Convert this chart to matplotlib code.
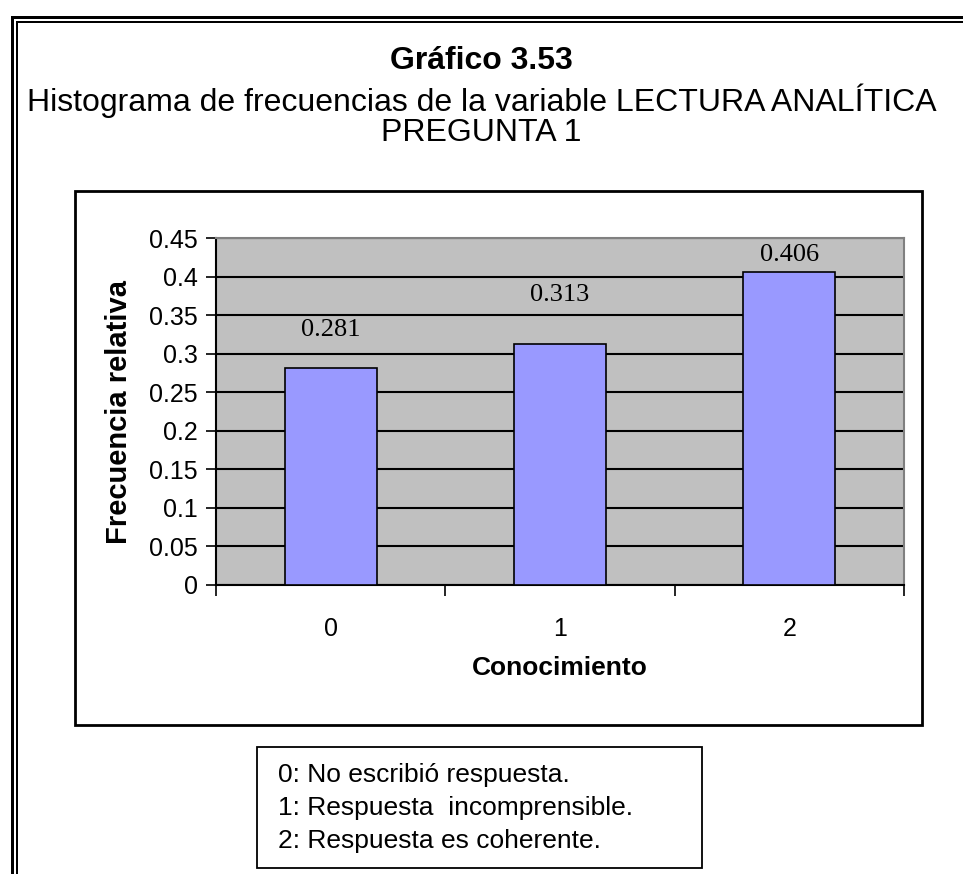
import matplotlib
matplotlib.use("Agg")
import matplotlib.pyplot as plt
from matplotlib.patches import Rectangle
from matplotlib.lines import Line2D
import numpy as np

categories = ["0", "1", "2"]
values = [0.281, 0.313, 0.406]
value_labels = ["0.281", "0.313", "0.406"]
yticks = [0, 0.05, 0.1, 0.15, 0.2, 0.25, 0.3, 0.35, 0.4, 0.45]
ytick_labels = ["0", "0.05", "0.1", "0.15", "0.2", "0.25", "0.3", "0.35", "0.4", "0.45"]
legend_lines = ["0: No escribió respuesta.",
                "1: Respuesta  incomprensible.",
                "2: Respuesta es coherente."]
title = "Gráfico 3.53"
subtitle = "Histograma de frecuencias de la variable LECTURA ANALÍTICA\nPREGUNTA 1"
xlabel = "Conocimiento"
ylabel = "Frecuencia relativa"
label_offsets = [0.05, 0.063, 0.022]

W, H = 963, 874
fig = plt.figure(figsize=(W / 100, H / 100), dpi=100)
sans = ["Liberation Sans", "DejaVu Sans"]

def fx(px):
    return px / W

def fy(py):
    return 1 - py / H

# double outer border
for lw, xo, yo in [(3, 11.5, 16.5), (2, 17, 22)]:
    fig.add_artist(Line2D([fx(xo), fx(xo)], [fy(yo), 0], transform=fig.transFigure, color="black", lw=lw * 0.72))
    fig.add_artist(Line2D([fx(xo), 1], [fy(yo), fy(yo)], transform=fig.transFigure, color="black", lw=lw * 0.72))

# chart box
fig.add_artist(Rectangle((fx(75), fy(725)), fx(922) - fx(75), fy(191) - fy(725),
                         transform=fig.transFigure, fill=False, ec="black", lw=2))

# titles
fig.text(0.5, fy(61), title, ha="center", va="center", fontsize=23, fontweight="bold", family=sans)
fig.text(0.5, fy(116), subtitle, ha="center", va="center", fontsize=23, family=sans, linespacing=0.98)

ax = fig.add_axes([fx(216), fy(585), fx(904) - fx(216), fy(238) - fy(585)])
ax.set_facecolor("#C0C0C0")
x = np.arange(len(categories))
ax.bar(x, values, width=0.4, color="#9999FF", edgecolor="black", lw=1.2, zorder=3)
for xi, v, lab, off in zip(x, values, value_labels, label_offsets):
    ax.text(xi, v + off, lab, ha="center", va="center", fontsize=19, family=["Liberation Serif", "DejaVu Serif"])

ax.set_ylim(0, 0.45)
ax.set_xlim(-0.5, 2.5)
ax.set_yticks(yticks)
ax.set_yticklabels(ytick_labels, family=sans, fontsize=18)
ax.yaxis.grid(True, color="black", lw=1.5, zorder=1)
ax.set_axisbelow(True)
ax.set_xticks(x)
ax.set_xticklabels(categories, family=sans, fontsize=18)
ax.set_xticks([-0.5, 0.5, 1.5, 2.5], minor=True)
ax.tick_params(axis="x", which="major", length=0, pad=23)
ax.tick_params(axis="x", which="minor", length=8, width=1.2, direction="out")
ax.tick_params(axis="y", length=7, width=1.2, direction="out", pad=6)
for s in ["top", "right"]:
    ax.spines[s].set_color("#808080")
    ax.spines[s].set_linewidth(1.5)
for s in ["left", "bottom"]:
    ax.spines[s].set_color("black")
    ax.spines[s].set_linewidth(1.5)
ax.set_xlabel(xlabel, family=sans, fontsize=19, fontweight="bold", labelpad=11)
ax.set_ylabel(ylabel, family=sans, fontsize=21, fontweight="bold", labelpad=12)

# legend box
fig.add_artist(Rectangle((fx(257), fy(868)), fx(702) - fx(257), fy(747) - fy(868),
                         transform=fig.transFigure, fill=False, ec="black", lw=1.3))
for i, line in enumerate(legend_lines):
    fig.text(fx(278), fy(775 + 33 * i), line, ha="left", va="center", fontsize=19, family=sans)

fig.savefig("out.png", dpi=100)
